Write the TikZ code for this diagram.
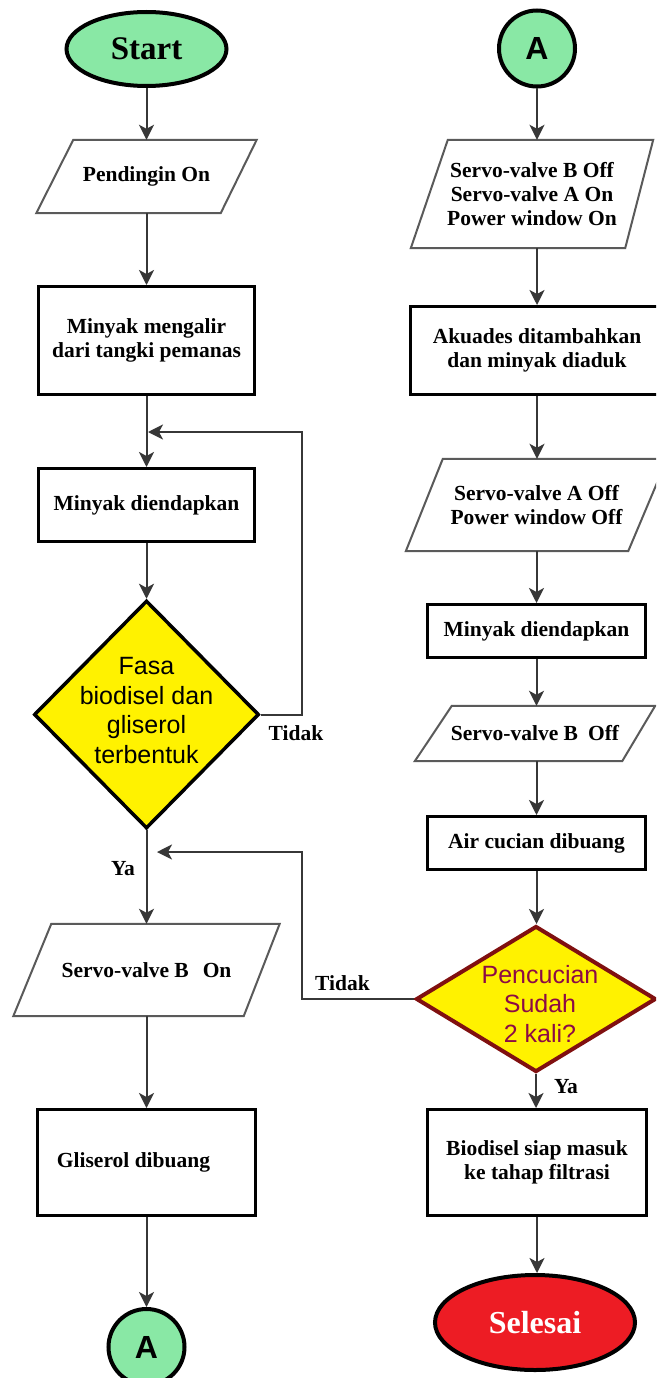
\documentclass[tikz,border=0pt]{standalone}
\usepackage{fontspec}
\setmainfont{Liberation Serif}
\newfontfamily\arialf{Liberation Sans}
\usetikzlibrary{shapes.geometric,arrows.meta}
\definecolor{mint}{RGB}{137,232,165}
\definecolor{yel}{RGB}{255,242,0}
\definecolor{redf}{RGB}{237,28,36}
\definecolor{maroonb}{RGB}{128,16,16}
\definecolor{plum}{RGB}{140,10,70}
\definecolor{linec}{RGB}{55,55,55}
\definecolor{parac}{RGB}{90,90,90}
\begin{document}
\begin{tikzpicture}[x=1pt,y=-1pt,
  txt/.style={font=\bfseries\fontsize{21.5}{24}\selectfont, align=center},
  boxn/.style={draw=black, line width=3pt, fill=white, inner sep=0pt, txt},
  paran/.style={inner sep=0pt, txt},
  paraline/.style={draw=parac, line width=2pt, line join=miter},
  term/.style={ellipse, draw=black, line width=4pt, inner sep=0pt},
  conncirc/.style={circle, draw=black, line width=4pt, fill=mint, inner sep=0pt, minimum size=76pt, font=\arialf\bfseries\fontsize{32}{34}\selectfont},
  decis/.style={diamond, fill=yel, inner sep=0pt},
  arr/.style={draw=linec, line width=2pt, -{Stealth[length=15pt,width=15pt,inset=4pt]}},
  lbl/.style={font=\bfseries\fontsize{21.5}{24}\selectfont, inner sep=0pt},
  dtext/.style={font=\arialf\fontsize{25}{29.6}\selectfont, align=center, inner sep=0pt}
]
\useasboundingbox (0,0) rectangle (656,1378);
\fill[white] (0,0) rectangle (656,1378);
\clip (0,0) rectangle (656,1378);

% ---------- left column ----------
\node[term, fill=mint, minimum width=160pt, minimum height=74pt,
      font=\bfseries\fontsize{33}{36}\selectfont] (start) at (146.5,49) {Start};
\node[paran, minimum width=220pt, minimum height=73pt] (p1) at (146.5,176.5) {Pendingin On};
\draw[paraline] ([xshift=37pt]p1.north west) -- (p1.north east) -- ([xshift=-36pt]p1.south east) -- (p1.south west) -- cycle;
\node[boxn, minimum width=216pt, minimum height=108pt] (r1) at (146.5,340.5) {Minyak mengalir\\dari tangki pemanas};
\node[boxn, minimum width=216pt, minimum height=73pt] (r2) at (146.5,505) {Minyak diendapkan};
\node[decis, draw=black, line width=3.5pt, minimum width=225pt, minimum height=228pt,
      label={[dtext, yshift=4pt]center:Fasa\\biodisel dan\\gliserol\\terbentuk}] (d1) at (146.5,714.5) {};
\node[paran, minimum width=266pt, minimum height=92pt] (p2) at (146.5,970) {Servo-valve B\hspace{14pt}On};
\draw[paraline] ([xshift=38pt]p2.north west) -- (p2.north east) -- ([xshift=-36pt]p2.south east) -- (p2.south west) -- cycle;
\node[boxn, minimum width=218pt, minimum height=106pt] (r3) at (146.5,1162.5) {Gliserol dibuang\hspace*{26pt}};
\node[conncirc] (cA2) at (146.5,1347) {A};

% ---------- right column ----------
\node[conncirc] (cA1) at (537,48.5) {A};
\node[paran, minimum width=242pt, minimum height=108pt] (p3) at (532,194) {Servo-valve B Off\\Servo-valve A On\\Power window On};
\draw[paraline] ([xshift=37pt]p3.north west) -- (p3.north east) -- ([xshift=-28pt]p3.south east) -- (p3.south west) -- cycle;
\node[boxn, minimum width=253pt, minimum height=88pt] (r4) at (537,350.5) {Akuades ditambahkan\\dan minyak diaduk};
\node[paran, minimum width=261pt, minimum height=92pt] (p4) at (536.5,505) {Servo-valve A Off\\Power window Off};
\draw[paraline] ([xshift=37pt]p4.north west) -- (p4.north east) -- ([xshift=-39pt]p4.south east) -- (p4.south west) -- cycle;
\node[boxn, minimum width=218pt, minimum height=53pt] (r5) at (536.5,631) {Minyak diendapkan};
\node[paran, minimum width=240pt, minimum height=55pt] (p5) at (535,733.5) {Servo-valve B\hspace{10pt}Off};
\draw[paraline] ([xshift=37pt]p5.north west) -- (p5.north east) -- ([xshift=-33pt]p5.south east) -- (p5.south west) -- cycle;
\node[boxn, minimum width=218pt, minimum height=53pt] (r6) at (536.5,843) {Air cucian dibuang};
\node[decis, draw=maroonb, line width=4pt, minimum width=240pt, minimum height=146pt,
      label={[dtext, text=plum, xshift=4pt, yshift=-5pt]center:Pencucian\\Sudah\\2 kali?}] (d2) at (536,999) {};
\node[boxn, minimum width=219pt, minimum height=106pt] (r7) at (537,1162.5) {Biodisel siap masuk\\ke tahap filtrasi};
\node[term, fill=redf, minimum width=200pt, minimum height=95pt, text=white,
      font=\bfseries\fontsize{32}{35}\selectfont] (end) at (535,1322.5) {Selesai};

% ---------- labels ----------
\node[lbl] (t1) at (296,733) {Tidak};
\node[lbl] (y1) at (123,869) {Ya};
\node[lbl] (t2) at (342.5,983) {Tidak};
\node[lbl] (y2) at (566,1087) {Ya};

% ---------- connectors ----------
\coordinate (lx) at (302,0);
\coordinate (j1) at (148,432);
\coordinate (j2) at (157,852);
\draw[arr] (start.south) -- (p1.north);
\draw[arr] (p1.south) -- (r1.north);
\draw[arr] (r1.south) -- (r2.north);
\draw[arr] (r2.south) -- (d1.north);
\draw[arr] (d1.south) -- (p2.north);
\draw[arr] (p2.south) -- (r3.north);
\draw[arr] (r3.south) -- (cA2.north);
\draw[arr] (d1.east) -- (d1.east -| lx) |- (j1);

\draw[arr] (cA1.south) -- (cA1.south |- p3.north);
\draw[arr] (r4.north |- p3.south) -- (r4.north);
\draw[arr] (r4.south) -- (r4.south |- p4.north);
\draw[arr] (p4.south) -- (r5.north);
\draw[arr] (r5.south) -- (r5.south |- p5.north);
\draw[arr] (r6.north |- p5.south) -- (r6.north);
\draw[arr] (r6.south) -- (r6.south |- d2.north);
\draw[arr] (d2.south) -- (d2.south |- r7.north);
\draw[arr] (r7.south) -- (r7.south |- end.north);
\draw[arr] (d2.west) -- (d2.west -| lx) |- (j2);
\end{tikzpicture}
\end{document}
